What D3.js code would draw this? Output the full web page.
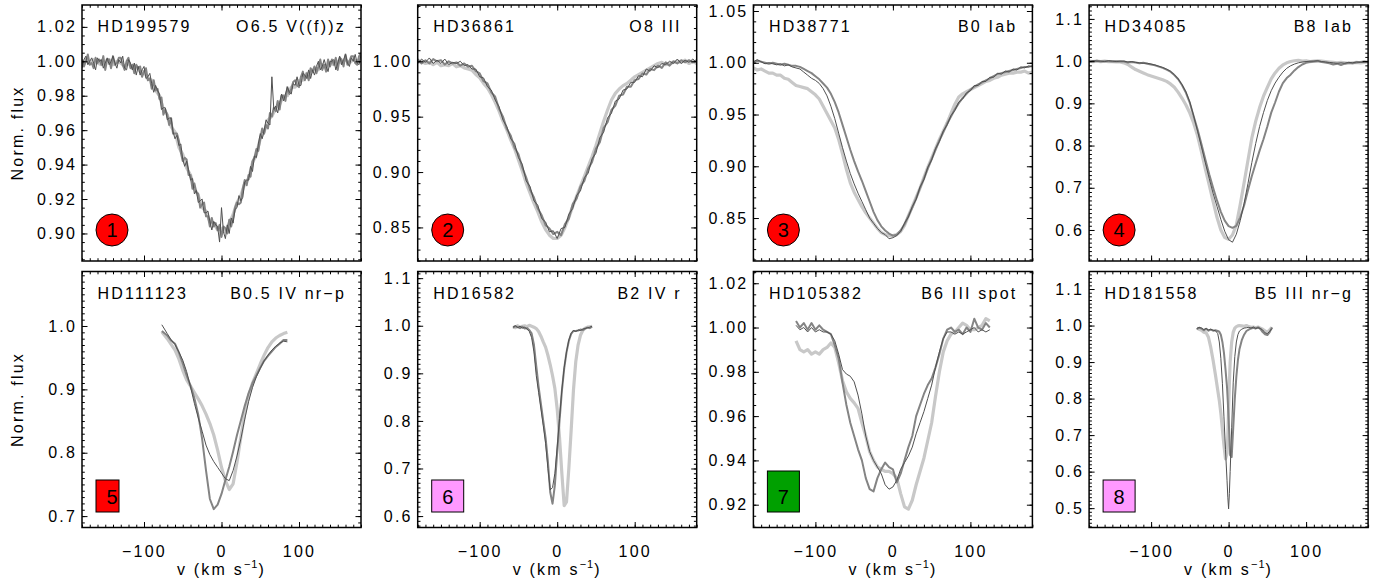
<!DOCTYPE html>
<html>
<head>
<meta charset="utf-8">
<script src="https://cdn.jsdelivr.net/npm/d3@7"></script>
<style>
body { margin: 0; background: #fff; }
text { font-family: "Liberation Sans", Arial, Helvetica, sans-serif; }
</style>
</head>
<body>
<svg id="chart"></svg>
<script>
// line profiles, three spectra per star (light = thick pale, mid, dark = thin)

const starNames = ["HD199579", "HD36861", "HD38771", "HD34085",
                   "HD111123", "HD16582", "HD105382", "HD181558"];
const spTypes = ["O6.5 V((f))z", "O8 III", "B0 Iab", "B8 Iab",
                 "B0.5 IV nr\u2212p", "B2 IV r", "B6 III spot", "B5 III nr\u2212g"];
const badgeNums = ["1", "2", "3", "4", "5", "6", "7", "8"];

// y ranges and tick labels per panel
const yDomains = [[0.884, 1.0327], [0.8197, 1.0508], [0.8085, 1.0558], [0.5265, 1.133],
                  [0.682, 1.086], [0.576, 1.114], [0.9097, 1.0253], [0.447, 1.148]];
const yTicks = [[0.90, 0.92, 0.94, 0.96, 0.98, 1.00, 1.02],
                [0.85, 0.90, 0.95, 1.00],
                [0.85, 0.90, 0.95, 1.00, 1.05],
                [0.6, 0.7, 0.8, 0.9, 1.0, 1.1],
                [0.7, 0.8, 0.9, 1.0],
                [0.6, 0.7, 0.8, 0.9, 1.0, 1.1],
                [0.92, 0.94, 0.96, 0.98, 1.00, 1.02],
                [0.5, 0.6, 0.7, 0.8, 0.9, 1.0, 1.1]];
const yMinorStep = [0.005, 0.01, 0.01, 0.01, 0.01, 0.01, 0.005, 0.01];
const yDecimals = [2, 2, 2, 1, 1, 1, 2, 1];
const xTicks = [-100, 0, 100];

// velocity grids (km/s)
const velWide = [
  -180,-175,-170,-165,-160,-155,-150,-145,-140,-135,
  -130,-125,-120,-115,-110,-105,-100,-95,-90,-85,
  -80,-75,-70,-65,-60,-55,-50,-45,-40,-35,
  -30,-25,-20,-15,-10,-5,0,5,10,15,
  20,25,30,35,40,45,50,55,60,65,
  70,75,80,85,90,95,100,105,110,115,
  120,125,130,135,140,145,150,155,160,165,
  170,175,180];
const velFine = [
  -180,-177.5,-175,-172.5,-170,-167.5,-165,-162.5,-160,-157.5,
  -155,-152.5,-150,-147.5,-145,-142.5,-140,-137.5,-135,-132.5,
  -130,-127.5,-125,-122.5,-120,-117.5,-115,-112.5,-110,-107.5,
  -105,-102.5,-100,-97.5,-95,-92.5,-90,-87.5,-85,-82.5,
  -80,-77.5,-75,-72.5,-70,-67.5,-65,-62.5,-60,-57.5,
  -55,-52.5,-50,-47.5,-45,-42.5,-40,-37.5,-35,-32.5,
  -30,-27.5,-25,-22.5,-20,-17.5,-15,-12.5,-10,-7.5,
  -5,-2.5,0,2.5,5,7.5,10,12.5,15,17.5,
  20,22.5,25,27.5,30,32.5,35,37.5,40,42.5,
  45,47.5,50,52.5,55,57.5,60,62.5,65,67.5,
  70,72.5,75,77.5,80,82.5,85,87.5,90,92.5,
  95,97.5,100,102.5,105,107.5,110,112.5,115,117.5,
  120,122.5,125,127.5,130,132.5,135,137.5,140,142.5,
  145,147.5,150,152.5,155,157.5,160,162.5,165,167.5,
  170,172.5,175,177.5,180];
const vel5 = [-77,-70,-65,-60,-55,-50,-45,-40,-35,-30,
  -25,-20,-15,-10,-5,0,5,10,15,20,
  25,30,35,40,45,50,55,60,65,70,
  75,80,85];
const vel6 = [-57,-54,-51,-48,-45,-42,-39,-36,-33,-30,
  -27,-24,-21,-18,-15,-12,-9,-6,-3,0,
  3,6,9,12,15,18,21,24,27,30,
  33,36,39,42,45];
const vel7 = [-125,-120,-115,-110,-105,-100,-95,-90,-85,-80,
  -75,-70,-65,-60,-55,-50,-45,-40,-35,-30,
  -25,-20,-15,-10,-5,0,5,10,15,20,
  25,30,35,40,45,50,55,60,65,70,
  75,80,85,90,95,100,105,110,115,120,
  125];
const vel8 = [-41,-38,-35,-32,-29,-26,-23,-20,-17,-14,
  -12,-10,-8,-6,-4,-2,-1,0,1,2,
  4,6,8,10,12,14,17,20,23,26,
  29,32,35,38,41,44,47,50,53,56];

// panel 1 (light on velWide, mid and dark on velFine)
const p1Light = [
  0.998,1.001,0.999,1.001,0.999,0.998,1.000,1.001,0.998,1.000,
  0.999,0.997,0.999,0.996,0.997,0.994,0.994,0.990,0.989,0.983,
  0.980,0.972,0.969,0.962,0.959,0.950,0.946,0.938,0.934,0.926,
  0.922,0.915,0.913,0.907,0.906,0.902,0.903,0.901,0.906,0.911,
  0.918,0.922,0.929,0.932,0.941,0.946,0.955,0.959,0.966,0.968,
  0.973,0.975,0.980,0.980,0.985,0.985,0.989,0.989,0.993,0.993,
  0.996,0.995,0.998,0.997,0.999,0.998,1.000,0.999,1.001,0.999,
  1.001,1.000,1.002];
const p1Mid = [
  1.001,0.997,1.000,1.004,0.998,0.999,0.996,1.002,0.999,1.001,
  0.998,1.003,0.995,1.001,1.001,0.996,1.003,0.998,0.999,1.002,
  1.002,0.998,0.995,1.000,1.002,0.996,0.998,0.993,0.998,0.996,
  0.997,0.991,0.994,0.996,0.989,0.990,0.984,0.989,0.983,0.984,
  0.978,0.979,0.969,0.972,0.969,0.963,0.967,0.958,0.958,0.958,
  0.954,0.947,0.942,0.944,0.943,0.934,0.934,0.926,0.929,0.924,
  0.923,0.915,0.917,0.918,0.910,0.910,0.904,0.909,0.904,0.906,
  0.902,0.905,0.898,0.904,0.903,0.900,0.908,0.904,0.909,0.915,
  0.918,0.917,0.918,0.926,0.931,0.928,0.934,0.933,0.942,0.944,
  0.949,0.948,0.955,0.961,0.958,0.963,0.961,0.970,0.968,0.973,
  0.971,0.977,0.972,0.980,0.980,0.977,0.985,0.981,0.984,0.988,
  0.989,0.986,0.985,0.991,0.994,0.989,0.993,0.989,0.996,0.994,
  0.997,0.993,0.997,1.001,0.995,0.998,0.994,1.001,0.997,1.001,
  0.998,1.002,0.995,1.002,1.001,0.997,1.004,0.998,1.000,1.003,
  1.003,0.999,0.998,1.003,1.005];
const p1Dark = [
  0.996,1.001,1.003,0.998,1.000,1.002,0.999,0.995,1.002,1.000,
  1.001,0.996,0.999,1.002,0.998,1.000,1.003,0.999,0.996,1.001,
  0.999,1.003,0.996,0.995,1.001,0.999,0.995,0.999,0.992,0.997,
  0.992,0.995,0.997,0.990,0.991,0.993,0.987,0.982,0.986,0.983,
  0.981,0.972,0.973,0.973,0.966,0.967,0.967,0.959,0.955,0.957,
  0.951,0.952,0.943,0.939,0.942,0.937,0.931,0.932,0.923,0.925,
  0.918,0.919,0.920,0.912,0.912,0.913,0.907,0.902,0.907,0.905,
  0.904,0.895,0.915,0.901,0.897,0.905,0.900,0.909,0.906,0.914,
  0.915,0.922,0.919,0.921,0.930,0.931,0.931,0.939,0.936,0.945,
  0.944,0.952,0.958,0.955,0.960,0.966,0.964,0.963,0.991,0.972,
  0.974,0.970,0.976,0.981,0.977,0.981,0.985,0.982,0.981,0.987,
  0.986,0.991,0.986,0.986,0.993,0.992,0.990,0.995,0.990,0.995,
  0.992,0.997,1.000,0.995,0.997,1.001,0.997,0.994,1.000,1.000,
  1.001,0.995,0.999,1.003,0.998,1.001,1.004,0.999,0.997,1.002,
  1.000,1.004,0.999,0.998,1.004];

// panel 2
const p2Light = [
  0.999,1.000,0.998,0.999,0.997,0.999,0.996,0.997,0.996,0.998,
  0.995,0.996,0.994,0.993,0.992,0.988,0.985,0.980,0.976,0.970,
  0.963,0.955,0.946,0.938,0.929,0.921,0.911,0.901,0.890,0.881,
  0.872,0.864,0.855,0.848,0.843,0.840,0.840,0.843,0.850,0.859,
  0.869,0.878,0.887,0.896,0.905,0.914,0.924,0.935,0.946,0.956,
  0.965,0.971,0.975,0.978,0.980,0.983,0.986,0.988,0.990,0.992,
  0.994,0.996,0.998,0.999,0.997,0.998,0.999,1.000,0.999,1.001,
  0.998,1.000,0.998];
const p2Mid = [
  1.002,0.998,1.001,0.998,1.002,1.000,1.001,0.997,1.000,0.998,
  0.999,0.996,0.998,0.995,0.996,0.991,0.989,0.982,0.980,0.972,
  0.968,0.957,0.950,0.939,0.933,0.922,0.916,0.904,0.895,0.884,
  0.877,0.867,0.861,0.852,0.849,0.844,0.846,0.843,0.853,0.858,
  0.871,0.876,0.887,0.892,0.903,0.909,0.921,0.927,0.940,0.945,
  0.956,0.960,0.969,0.970,0.977,0.977,0.983,0.984,0.989,0.988,
  0.993,0.992,0.996,0.994,0.999,0.996,1.000,0.998,1.001,0.999,
  1.001,0.999,1.001];
const p2Dark = [
  0.998,1.002,0.999,1.003,0.998,1.001,0.998,1.002,0.997,0.999,
  0.998,1.000,0.996,0.997,0.993,0.993,0.986,0.985,0.977,0.974,
  0.965,0.959,0.947,0.941,0.930,0.926,0.913,0.907,0.892,0.887,
  0.874,0.870,0.858,0.855,0.846,0.847,0.840,0.849,0.850,0.862,
  0.867,0.879,0.883,0.895,0.899,0.912,0.917,0.931,0.936,0.949,
  0.953,0.964,0.966,0.974,0.975,0.981,0.981,0.987,0.986,0.993,
  0.991,0.996,0.994,0.998,0.997,1.000,0.998,1.002,0.998,1.001,
  0.999,1.002,0.999];

// panel 3
const p3Light = [
  0.995,0.993,0.994,0.992,0.990,0.990,0.988,0.988,0.985,0.984,
  0.981,0.978,0.977,0.976,0.975,0.972,0.969,0.965,0.958,0.951,
  0.944,0.937,0.926,0.912,0.897,0.884,0.875,0.868,0.861,0.855,
  0.850,0.845,0.840,0.836,0.834,0.833,0.833,0.834,0.837,0.843,
  0.852,0.861,0.870,0.879,0.889,0.899,0.908,0.917,0.926,0.934,
  0.942,0.951,0.960,0.967,0.970,0.972,0.974,0.976,0.978,0.980,
  0.982,0.983,0.985,0.986,0.988,0.989,0.990,0.990,0.991,0.991,
  0.992,0.990,0.991];
const p3Mid = [
  1.000,1.002,1.001,1.000,0.999,1.000,0.999,0.998,0.999,0.998,
  0.997,0.997,0.996,0.994,0.992,0.990,0.987,0.984,0.980,0.976,
  0.970,0.962,0.952,0.940,0.928,0.916,0.905,0.895,0.886,0.876,
  0.866,0.856,0.848,0.842,0.838,0.835,0.833,0.834,0.838,0.844,
  0.852,0.860,0.869,0.879,0.888,0.898,0.907,0.916,0.925,0.933,
  0.941,0.948,0.955,0.961,0.966,0.970,0.974,0.977,0.979,0.981,
  0.983,0.985,0.987,0.989,0.990,0.991,0.992,0.993,0.994,0.995,
  0.996,0.996,0.997];
const p3Dark = [
  1.001,1.003,1.001,0.999,1.000,0.999,0.998,0.999,0.997,0.998,
  0.996,0.995,0.994,0.991,0.988,0.985,0.983,0.980,0.975,0.968,
  0.958,0.946,0.932,0.918,0.905,0.893,0.883,0.874,0.866,0.858,
  0.850,0.845,0.840,0.836,0.834,0.830,0.831,0.833,0.837,0.845,
  0.851,0.861,0.868,0.880,0.887,0.899,0.906,0.917,0.924,0.934,
  0.940,0.949,0.954,0.962,0.965,0.971,0.973,0.978,0.978,0.982,
  0.982,0.986,0.986,0.990,0.989,0.992,0.991,0.994,0.993,0.996,
  0.995,0.997,0.996];

// panel 4
const p4Light = [
  1.000,0.999,1.000,0.999,1.000,0.999,0.999,0.998,0.998,0.996,
  0.992,0.986,0.980,0.976,0.972,0.968,0.965,0.962,0.959,0.956,
  0.952,0.946,0.938,0.926,0.912,0.896,0.877,0.853,0.823,0.785,
  0.745,0.707,0.668,0.630,0.600,0.582,0.578,0.588,0.612,0.660,
  0.712,0.765,0.818,0.858,0.890,0.917,0.938,0.958,0.972,0.983,
  0.991,0.996,0.999,1.001,1.002,1.000,1.001,0.999,1.000,1.001,
  1.000,0.999,0.998,0.997,0.996,0.997,0.996,0.995,0.996,0.997,
  0.996,0.997,0.998];
const p4Mid = [
  1.000,0.999,1.001,0.999,1.000,1.000,0.999,1.000,0.999,0.999,
  0.997,0.998,0.997,0.995,0.996,0.994,0.992,0.990,0.987,0.984,
  0.980,0.975,0.967,0.957,0.943,0.925,0.901,0.869,0.838,0.803,
  0.767,0.732,0.700,0.670,0.643,0.622,0.609,0.605,0.610,0.630,
  0.658,0.694,0.728,0.758,0.788,0.815,0.845,0.878,0.902,0.928,
  0.948,0.960,0.968,0.978,0.986,0.992,0.996,0.998,0.999,1.000,
  0.998,0.997,0.995,0.992,0.994,0.991,0.994,0.996,0.995,0.997,
  0.998,0.999,0.998];
const p4Dark = [
  0.999,1.001,1.000,1.000,0.999,1.001,1.000,0.999,1.000,1.000,
  0.998,0.999,0.997,0.996,0.995,0.995,0.993,0.991,0.988,0.985,
  0.981,0.976,0.968,0.958,0.944,0.927,0.903,0.870,0.834,0.797,
  0.759,0.722,0.687,0.656,0.625,0.597,0.577,0.571,0.590,0.622,
  0.663,0.710,0.760,0.805,0.845,0.878,0.907,0.930,0.948,0.962,
  0.974,0.983,0.989,0.993,0.996,0.998,0.999,1.000,1.000,1.001,
  0.999,0.998,0.997,0.996,0.995,0.996,0.995,0.997,0.996,0.998,
  0.997,0.998,0.999];

// panel 5
const p5Light = [0.991,0.980,0.971,0.962,0.948,0.930,0.915,0.905,0.895,0.885,
  0.874,0.861,0.846,0.828,0.804,0.777,0.756,0.742,0.751,0.785,
  0.825,0.862,0.890,0.910,0.925,0.940,0.954,0.966,0.975,0.981,
  0.985,0.988,0.990];
const p5Mid = [0.992,0.985,0.977,0.972,0.958,0.941,0.922,0.906,0.886,0.860,
  0.822,0.772,0.727,0.711,0.718,0.735,0.757,0.778,0.802,0.828,
  0.851,0.874,0.894,0.910,0.922,0.934,0.945,0.953,0.960,0.967,
  0.972,0.978,0.978];
const p5Dark = [1.002,0.988,0.978,0.971,0.959,0.946,0.928,0.904,0.878,0.855,
  0.834,0.812,0.797,0.786,0.777,0.768,0.759,0.756,0.772,0.795,
  0.822,0.853,0.881,0.903,0.920,0.933,0.945,0.954,0.962,0.968,
  0.973,0.976,0.975];

// panel 6
const p6Light = [0.998,0.996,1.000,0.997,0.999,1.000,0.998,1.001,0.999,0.997,
  0.994,0.988,0.978,0.966,0.955,0.938,0.918,0.895,0.868,0.825,
  0.765,0.690,0.622,0.630,0.700,0.780,0.865,0.925,0.960,0.980,
  0.990,0.995,0.997,0.998,0.999];
const p6Mid = [0.996,0.999,0.997,0.995,0.998,0.994,0.995,0.991,0.984,0.960,
  0.915,0.872,0.836,0.800,0.765,0.715,0.650,0.626,0.665,0.735,
  0.800,0.862,0.910,0.944,0.968,0.983,0.989,0.989,0.990,0.992,
  0.991,0.994,0.996,0.995,0.998];
const p6Dark = [0.997,1.000,0.996,0.999,0.995,0.997,0.993,0.988,0.975,0.945,
  0.895,0.860,0.825,0.790,0.753,0.700,0.655,0.660,0.690,0.745,
  0.805,0.865,0.912,0.945,0.970,0.984,0.990,0.988,0.991,0.990,
  0.993,0.994,0.996,0.997,0.999];

// panel 7
const p7Light = [
  0.994,0.990,0.989,0.990,0.988,0.989,0.988,0.990,0.991,0.993,
  0.991,0.984,0.976,0.971,0.968,0.966,0.9635,0.957,0.951,0.944,
  0.940,0.937,0.936,0.935,0.935,0.934,0.932,0.925,0.919,0.918,
  0.922,0.929,0.935,0.941,0.949,0.957,0.969,0.980,0.989,0.994,
  0.997,0.998,1.000,1.002,1.001,0.999,0.999,1.000,1.001,1.004,
  1.003];
const p7Mid = [
  1.003,1.000,1.002,0.999,1.002,0.999,1.001,0.999,0.998,0.997,
  0.992,0.986,0.975,0.965,0.957,0.951,0.945,0.940,0.932,0.927,
  0.926,0.932,0.936,0.939,0.937,0.936,0.930,0.934,0.940,0.946,
  0.951,0.960,0.965,0.970,0.974,0.977,0.982,0.988,0.995,0.999,
  1.000,0.998,0.999,0.997,1.000,0.998,1.004,1.000,0.999,1.002,
  1.000];
const p7Dark = [
  1.001,0.999,1.000,0.998,1.000,0.998,0.999,0.998,0.998,0.997,
  0.994,0.988,0.981,0.979,0.978,0.9755,0.9695,0.961,0.951,0.944,
  0.940,0.937,0.934,0.929,0.927,0.928,0.931,0.936,0.939,0.942,
  0.946,0.952,0.957,0.962,0.968,0.974,0.982,0.989,0.995,0.998,
  0.998,0.997,0.998,0.997,0.998,0.999,1.000,0.998,0.999,0.998,
  0.999];

// panel 8
const p8Light = [0.993,0.990,0.987,0.982,0.980,0.968,0.940,0.905,0.865,0.823,
  0.795,0.760,0.715,0.672,0.635,0.650,0.700,0.770,0.840,0.900,
  0.955,0.982,0.993,0.997,0.999,1.000,0.999,0.998,1.000,0.997,
  0.995,0.996,0.994,0.996,0.993,0.990,0.985,0.982,0.988,0.995];
const p8Mid = [0.990,0.994,0.992,0.987,0.991,0.986,0.989,0.986,0.987,0.985,
  0.983,0.975,0.955,0.925,0.880,0.830,0.790,0.745,0.700,0.645,
  0.640,0.720,0.800,0.860,0.905,0.935,0.960,0.975,0.985,0.989,
  0.992,0.994,0.992,0.995,0.991,0.982,0.976,0.974,0.982,0.995];
const p8Dark = [0.992,0.995,0.993,0.989,0.992,0.988,0.990,0.987,0.986,0.978,
  0.955,0.910,0.842,0.750,0.660,0.575,0.530,0.498,0.540,0.600,
  0.720,0.845,0.915,0.955,0.975,0.985,0.990,0.993,0.994,0.995,
  0.993,0.996,0.992,0.994,0.992,0.988,0.980,0.978,0.984,0.992];

// [light, mid, dark] velocity grid and flux for every panel
const seriesVel = [
  [velWide, velFine, velFine], [velWide, velWide, velWide],
  [velWide, velWide, velWide], [velWide, velWide, velWide],
  [vel5, vel5, vel5], [vel6, vel6, vel6], [vel7, vel7, vel7], [vel8, vel8, vel8]];
const seriesFlux = [
  [p1Light, p1Mid, p1Dark], [p2Light, p2Mid, p2Dark],
  [p3Light, p3Mid, p3Dark], [p4Light, p4Mid, p4Dark],
  [p5Light, p5Mid, p5Dark], [p6Light, p6Mid, p6Dark],
  [p7Light, p7Mid, p7Dark], [p8Light, p8Mid, p8Dark]];

// layout
const width = 1386, height = 585;
const pw = 279, ph = 256;
const lefts = [82, 417.7, 753.4, 1089.1];
const tops = [5, 271.5];
const fontSize = 16, spacing = 2.2;

const svg = d3.select("#chart").attr("width", width).attr("height", height);
svg.append("rect").attr("width", width).attr("height", height).attr("fill", "#fff");

function styleAxis(a) {
    a.select(".domain").remove();
    a.attr("font-family", null).attr("font-size", null);
    a.selectAll("text")
        .style("font-size", fontSize + "px")
        .style("letter-spacing", spacing + "px")
        .attr("fill", "#000");
    a.selectAll("line").attr("stroke", "#000").attr("stroke-width", 1);
}

function minorTicks(dom, step) {
    let start = Math.ceil(dom[0] / step - 1e-6) * step;
    return d3.range(start, dom[1] + 1e-9, step);
}

const lineStyles = [
    {color: "#c8c8c8", w: 3.2},
    {color: "#848484", w: 2.0},
    {color: "#505050", w: 1.0}
];
const badgeFills = ["#ff0000", "#ff0000", "#ff0000", "#ff0000",
                    "#ff0000", "#ff99ff", "#00a000", "#ff99ff"];
// boxes of the lower row: [x, y, w, h] relative to the panel
const badgeBoxes = [[14, 208.5, 23, 32], [14, 208.5, 32, 32], [14, 199.5, 32, 41], [14, 208.5, 32, 32]];

starNames.forEach(function(name, i) {
    const col = i % 4, row = Math.floor(i / 4);
    const x0 = lefts[col], y0 = tops[row];
    const g = svg.append("g").attr("transform", "translate(" + x0 + "," + y0 + ")");

    const x = d3.scaleLinear().domain([-180, 180]).range([0, pw]);
    const y = d3.scaleLinear().domain(yDomains[i]).range([ph, 0]);

    g.append("clipPath").attr("id", "clip" + i)
        .append("rect").attr("width", pw).attr("height", ph);

    const line = d3.line()
        .defined(d => d[1] != null)
        .x(d => x(d[0]))
        .y(d => y(d[1]));

    seriesFlux[i].forEach(function(s, k) {
        g.append("path")
            .datum(d3.zip(seriesVel[i][k], s))
            .attr("clip-path", "url(#clip" + i + ")")
            .attr("fill", "none")
            .attr("stroke", lineStyles[k].color)
            .attr("stroke-width", lineStyles[k].w)
            .attr("stroke-linejoin", "round")
            .attr("d", line);
    });

    // axes, ticks pointing inwards on all four sides
    const fmt = d3.format("." + yDecimals[i] + "f");
    const yMinor = minorTicks(yDomains[i], yMinorStep[i]);
    const xMinor = d3.range(-180, 181, 10);

    g.append("g").call(d3.axisLeft(y).tickValues(yMinor).tickSize(-2.8).tickFormat("")).call(styleAxis);
    g.append("g").call(d3.axisLeft(y).tickValues(yTicks[i]).tickSize(-5.5).tickPadding(5).tickFormat(fmt)).call(styleAxis);
    g.append("g").attr("transform", "translate(" + pw + ",0)")
        .call(d3.axisRight(y).tickValues(yMinor).tickSize(-2.8).tickFormat("")).call(styleAxis);
    g.append("g").attr("transform", "translate(" + pw + ",0)")
        .call(d3.axisRight(y).tickValues(yTicks[i]).tickSize(-5.5).tickFormat("")).call(styleAxis);

    g.append("g").attr("transform", "translate(0," + ph + ")")
        .call(d3.axisBottom(x).tickValues(xMinor).tickSize(-2.8).tickFormat("")).call(styleAxis);
    g.append("g").attr("transform", "translate(0," + ph + ")")
        .call(d3.axisBottom(x).tickValues(xTicks).tickSize(-5.5).tickPadding(18)
            .tickFormat(row === 1 ? d3.format("d") : "")).call(styleAxis);
    g.append("g")
        .call(d3.axisTop(x).tickValues(xMinor).tickSize(-2.8).tickFormat("")).call(styleAxis);
    g.append("g")
        .call(d3.axisTop(x).tickValues(xTicks).tickSize(-5.5).tickFormat("")).call(styleAxis);

    // frame
    g.append("rect")
        .attr("width", pw).attr("height", ph)
        .attr("fill", "none").attr("stroke", "#000").attr("stroke-width", 1.5);

    // star name and spectral type
    g.append("text")
        .attr("x", 15.5).attr("y", 27)
        .style("font-size", fontSize + "px").style("letter-spacing", spacing + "px")
        .text(name);
    g.append("text")
        .attr("x", pw - 15).attr("y", 27)
        .attr("text-anchor", "end")
        .style("font-size", fontSize + "px").style("letter-spacing", spacing + "px")
        .text(spTypes[i]);

    // numbered badge
    if (row === 0) {
        g.append("circle")
            .attr("cx", 30).attr("cy", 225).attr("r", 16)
            .attr("fill", badgeFills[i]).attr("stroke", "#000").attr("stroke-width", 1);
    } else {
        const b = badgeBoxes[col];
        g.append("rect")
            .attr("x", b[0]).attr("y", b[1]).attr("width", b[2]).attr("height", b[3])
            .attr("fill", badgeFills[i]).attr("stroke", "#000").attr("stroke-width", 1);
    }
    g.append("text")
        .attr("x", 30).attr("y", 225).attr("dy", "0.36em")
        .attr("text-anchor", "middle")
        .style("font-size", "20px")
        .text(badgeNums[i]);

    // axis titles
    if (col === 0) {
        svg.append("text")
            .attr("transform", "translate(23," + (y0 + ph / 2) + ") rotate(-90)")
            .attr("text-anchor", "middle")
            .style("font-size", fontSize + "px").style("letter-spacing", spacing + "px")
            .text("Norm. flux");
    }
    if (row === 1) {
        const t = svg.append("text")
            .attr("x", x0 + pw / 2).attr("y", 575)
            .attr("text-anchor", "middle")
            .style("font-size", fontSize + "px").style("letter-spacing", spacing + "px");
        t.append("tspan").text("v (km s");
        t.append("tspan").attr("dy", -7).style("font-size", "11px").style("letter-spacing", "1px").text("\u22121");
        t.append("tspan").attr("dy", 7).text(")");
    }
});
</script>
</body>
</html>
